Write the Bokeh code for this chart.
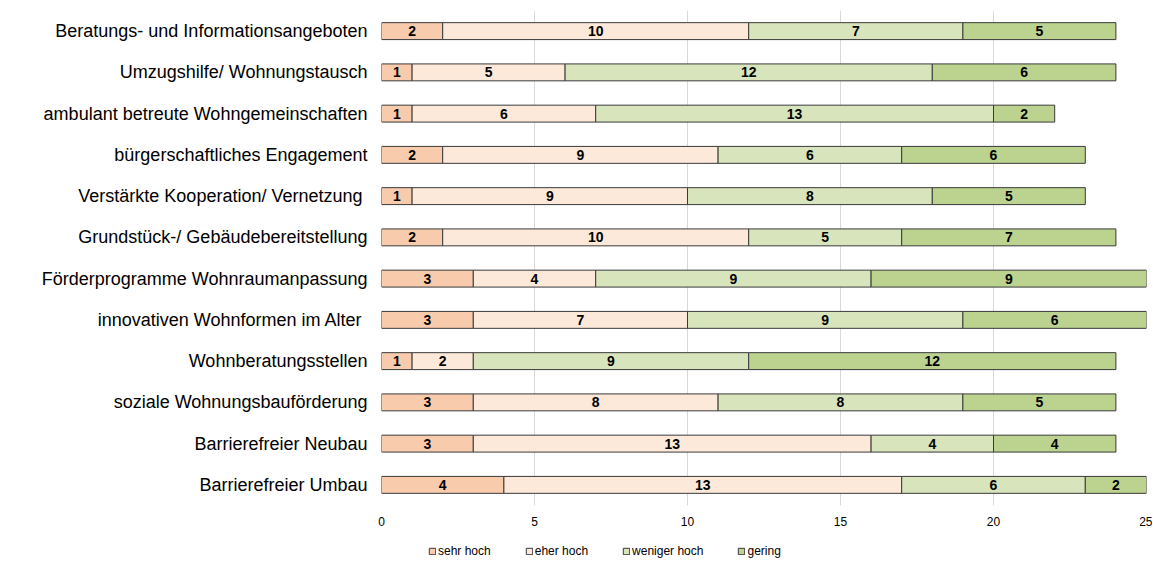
from bokeh.plotting import figure
from bokeh.layouts import column
from bokeh.models import ColumnDataSource, FactorRange, Range1d, FixedTicker, Legend, LegendItem
from bokeh.core.properties import value
from bokeh.embed import file_html
from bokeh.resources import INLINE

categories = [
    "Beratungs- und Informationsangeboten",
    "Umzugshilfe/ Wohnungstausch",
    "ambulant betreute Wohngemeinschaften",
    "bürgerschaftliches Engagement",
    "Verstärkte Kooperation/ Vernetzung ",
    "Grundstück-/ Gebäudebereitstellung",
    "Förderprogramme Wohnraumanpassung",
    "innovativen Wohnformen im Alter ",
    "Wohnberatungsstellen",
    "soziale Wohnungsbauförderung",
    "Barrierefreier Neubau",
    "Barrierefreier Umbau",
]
sehr_hoch = [2, 1, 1, 2, 1, 2, 3, 3, 1, 3, 3, 4]
eher_hoch = [10, 5, 6, 9, 9, 10, 4, 7, 2, 8, 13, 13]
weniger_hoch = [7, 12, 13, 6, 8, 5, 9, 9, 9, 8, 4, 6]
gering = [5, 6, 2, 6, 5, 7, 9, 6, 12, 5, 4, 2]
series_names = ["sehr hoch", "eher hoch", "weniger hoch", "gering"]
colors = ["#F8CBAD", "#FDE9D9", "#D8E4BC", "#BBD38F"]
x_ticks = [0, 5, 10, 15, 20, 25]

keys = ["s0", "s1", "s2", "s3"]
data = {"cat": categories}
for k, vals in zip(keys, [sehr_hoch, eher_hoch, weniger_hoch, gering]):
    data[k] = vals
source = ColumnDataSource(data)

FONT = "Liberation Sans"
EDGE = "#3A3A3A"

p = figure(
    frame_width=765, frame_height=495,
    y_range=FactorRange(factors=list(reversed(categories)), range_padding=0),
    x_range=Range1d(0, 25),
    output_backend="svg", toolbar_location=None,
    min_border_left=381, min_border_right=6, min_border_top=10, min_border_bottom=38,
)
p.outline_line_color = None

renderers = p.hbar_stack(keys, y="cat", height=0.41, color=colors, source=source,
                         line_color=EDGE, line_width=1)

# segment labels
lx, ly, lt = [], [], []
for i, cat in enumerate(categories):
    start = 0
    for vals in [sehr_hoch, eher_hoch, weniger_hoch, gering]:
        v = vals[i]
        lx.append(start + v / 2)
        ly.append(cat)
        lt.append(str(v))
        start += v
p.text(x=lx, y=ly, text=lt, text_align="center", text_baseline="middle",
       text_font=value(FONT), text_font_size="14px", text_font_style="bold",
       text_color="#000000")

p.xaxis.ticker = FixedTicker(ticks=x_ticks)
p.xaxis.axis_line_color = None
p.xaxis.major_tick_line_color = None
p.xaxis.minor_tick_line_color = None
p.xaxis.major_tick_out = 0
p.xaxis.major_tick_in = 0
p.xaxis.minor_tick_out = 0
p.xaxis.major_label_standoff = 11
p.xaxis.major_label_text_font = FONT
p.xaxis.major_label_text_font_size = "12px"
p.xaxis.major_label_text_color = "#000000"

p.yaxis.axis_line_color = None
p.yaxis.major_tick_line_color = None
p.yaxis.minor_tick_line_color = None
p.yaxis.major_tick_out = 0
p.yaxis.major_tick_in = 0
p.yaxis.minor_tick_out = 0
p.yaxis.major_label_standoff = 14
p.yaxis.major_label_text_font = FONT
p.yaxis.major_label_text_font_size = "18px"
p.yaxis.major_label_text_color = "#000000"

p.xgrid.grid_line_color = "#D9D9D9"
p.xgrid.ticker = FixedTicker(ticks=x_ticks)
p.ygrid.grid_line_color = None

# separate strip for the legend below the chart
lg = figure(
    width=1152, height=17, x_range=Range1d(0, 1), y_range=Range1d(0, 1),
    output_backend="svg", toolbar_location=None,
    min_border_left=0, min_border_right=0, min_border_top=0, min_border_bottom=0,
)
lg.axis.visible = False
lg.grid.grid_line_color = None
lg.outline_line_color = None
dummy = [lg.rect(x=[-5], y=[-5], width=1, height=1, fill_color=c, line_color=EDGE)
         for c in colors]
legend = Legend(
    items=[LegendItem(label=n, renderers=[r]) for n, r in zip(series_names, dummy)],
    orientation="horizontal", location=(47, 2),
    glyph_width=8, glyph_height=8, label_height=12, label_standoff=2,
    spacing=34, padding=0, margin=0,
    label_text_font=FONT, label_text_font_size="12px", label_text_color="#000000",
    border_line_color=None, background_fill_alpha=0,
)
lg.add_layout(legend, "center")

layout = column(p, lg, spacing=0)

open("out.html", "w").write(file_html(layout, INLINE))
